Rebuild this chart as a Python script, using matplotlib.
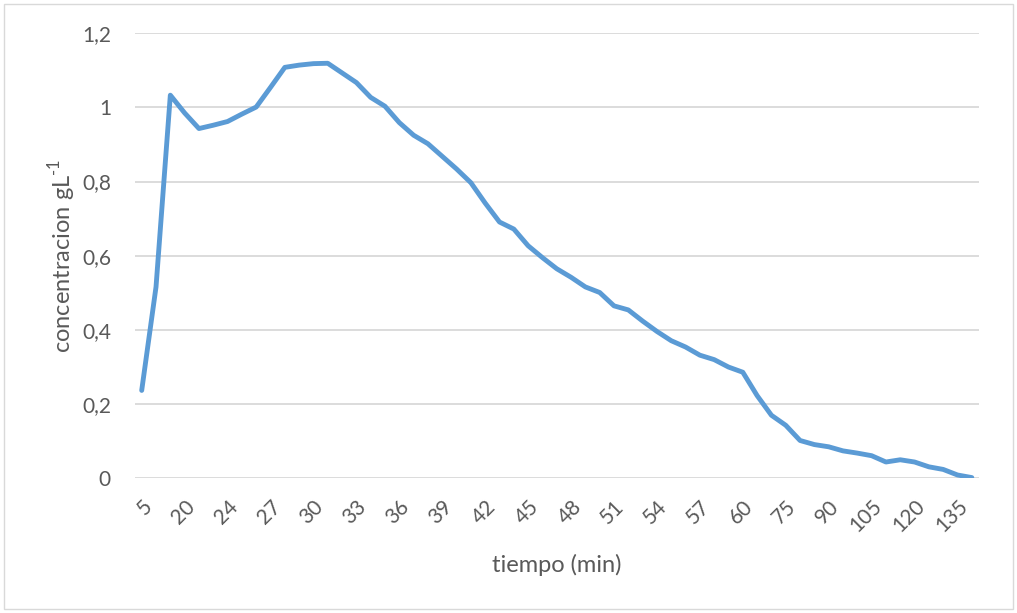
import matplotlib
matplotlib.use("Agg")
import matplotlib.pyplot as plt
from matplotlib.patches import Rectangle

# tiempo de muestreo (min)
tiempo = [5, 10, 15, 20, 22, 23] + list(range(24, 61)) + list(range(65, 141, 5))

# concentracion (g/L)
conc = [0.237, 0.516, 1.033, 0.985, 0.943, 0.952, 0.962, 0.982, 1.001, 1.054,
        1.108, 1.114, 1.118, 1.119, 1.093, 1.067, 1.027, 1.003, 0.959, 0.925,
        0.902, 0.868, 0.834, 0.797, 0.742, 0.691, 0.672, 0.627, 0.595, 0.565,
        0.542, 0.516, 0.501, 0.465, 0.454, 0.424, 0.396, 0.371, 0.354, 0.332,
        0.320, 0.300, 0.286, 0.223, 0.170, 0.143, 0.102, 0.091, 0.085, 0.074,
        0.068, 0.061, 0.044, 0.050, 0.044, 0.031, 0.024, 0.009, 0.002]

yticks = [0, 0.2, 0.4, 0.6, 0.8, 1.0, 1.2]
ylabels = ["0", "0,2", "0,4", "0,6", "0,8", "1", "1,2"]

plt.rcParams['font.family'] = ['Lato', 'DejaVu Sans']
plt.rcParams['mathtext.fontset'] = 'custom'
plt.rcParams['mathtext.rm'] = 'Lato'
gris = '#595959'

fig = plt.figure(figsize=(10.17, 6.13), dpi=100)
ax = fig.add_axes([0.1323, 0.2197, 0.8303, 0.7261])

x = list(range(len(tiempo)))
ax.plot(x, conc, color='#5b9bd5', lw=3.5, solid_joinstyle='round',
        solid_capstyle='round', zorder=3)

ax.set_xlim(-0.5, len(tiempo) - 0.5)
ax.set_ylim(0, 1.2)
ax.set_yticks(yticks)
ax.set_yticklabels(ylabels)
ax.set_xticks(x[::3])
ax.set_xticklabels([str(t) for t in tiempo[::3]], rotation=45, ha='right',
                   rotation_mode='anchor')

ax.tick_params(axis='both', length=0, labelsize=15, labelcolor=gris)
ax.tick_params(axis='y', pad=17)
ax.tick_params(axis='x', pad=13)
ax.grid(axis='y', color='#d9d9d9', lw=1.3)
ax.set_axisbelow(True)
for s in ax.spines.values():
    s.set_visible(False)

ax.set_xlabel('tiempo (min)', fontsize=17, color=gris, labelpad=13)
ax.set_ylabel(r'concentracion gL$^{\text{-1}}$', fontsize=17, color=gris, labelpad=3)

# borde del grafico
fig.patches.append(Rectangle((0.004, 0.006), 0.992, 0.988, transform=fig.transFigure,
                             fill=False, edgecolor='#d9d9d9', lw=1))

fig.savefig('out.png', dpi=100)
